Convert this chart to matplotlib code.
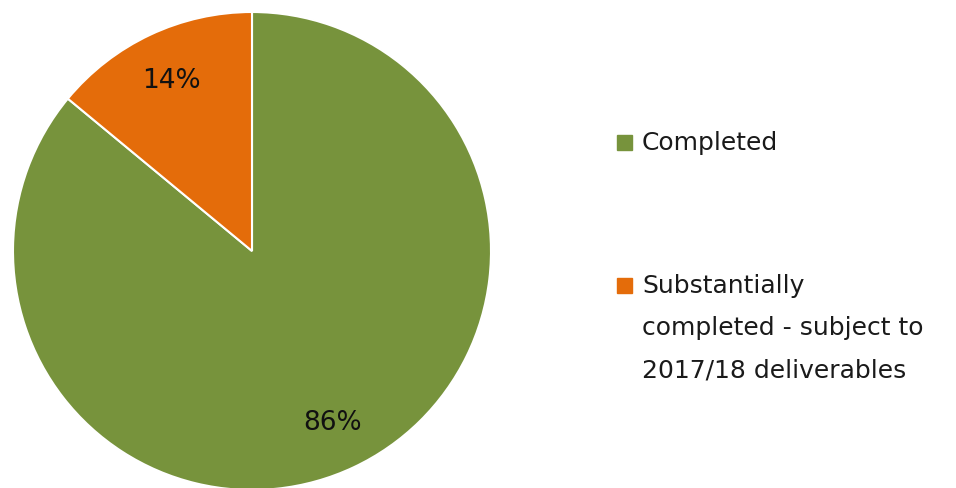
import matplotlib.pyplot as plt
from matplotlib.patches import Rectangle

labels = ['Completed', 'Substantially\ncompleted - subject to\n2017/18 deliverables']
values = [86, 14]
colors = ['#77933C', '#E46C0A']

W, H = 956, 489
fig = plt.figure(figsize=(W / 100, H / 100), dpi=100)

# pie centre at (252, 252) px, radius ~239 px
cx, cy, r = 252, 252, 239
ax = fig.add_axes([(cx - r) / W, (H - cy - r) / H, 2 * r / W, 2 * r / H])
wedges, texts, autotexts = ax.pie(values, colors=colors, startangle=90, counterclock=False,
                                  autopct='%d%%', pctdistance=0.79,
                                  wedgeprops=dict(edgecolor='white', linewidth=1.5),
                                  textprops=dict(fontsize=19, color='#111111',
                                                 family='DejaVu Sans'))
ax.set_aspect('auto')
ax.set_xlim(-1, 1)
ax.set_ylim(-1, 1)

# legend drawn by hand: marker next to first line of each label
first_line_y = [143, 286]
line_step = 42
for lab, col, y0 in zip(labels, colors, first_line_y):
    fig.patches.append(Rectangle((617 / W, 1 - (y0 + 8) / H), 15 / W, 15 / H,
                                 transform=fig.transFigure, color=col))
    for i, line in enumerate(lab.split('\n')):
        fig.text(642 / W, 1 - (y0 + i * line_step) / H, line, fontsize=18,
                 family='DejaVu Sans', color='#1a1a1a', va='center', ha='left')

fig.savefig('out.png', dpi=100)
